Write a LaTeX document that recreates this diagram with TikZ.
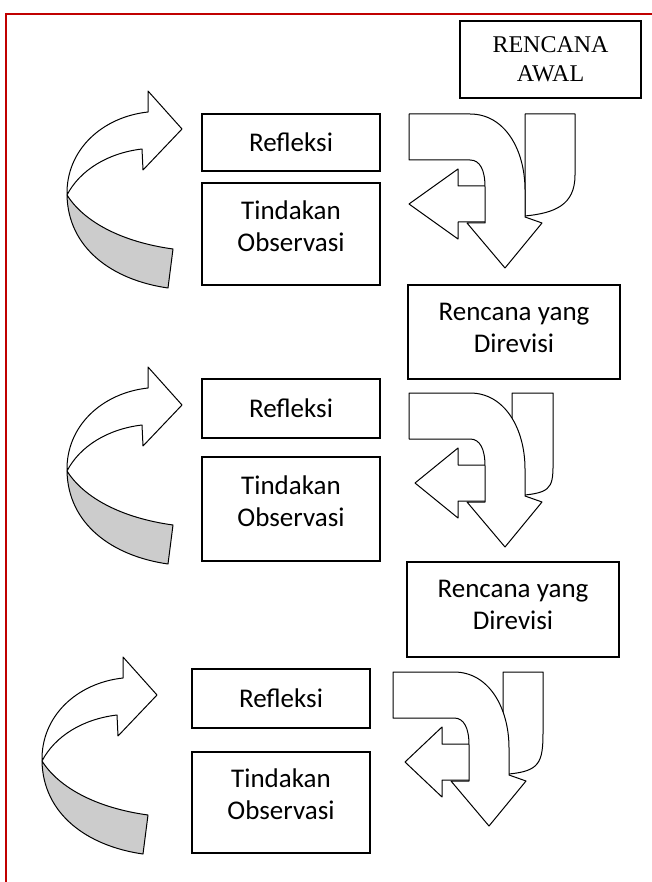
\documentclass[tikz,border=0pt]{standalone}
\usepackage{fontspec}
\setmainfont{Carlito}
\newfontfamily\awalfont{Liberation Serif}
\usetikzlibrary{positioning}
\definecolor{framered}{RGB}{192,0,0}

% curved arrow on the left of each cycle
\newcommand{\backarrow}{%
  \filldraw[shapeline, fill=gray!40] (67,195) .. controls (68,248) and (112,280) .. (168,288) -- (173,249) .. controls (122,242) and (84,222) .. (67,195) -- cycle;
  \filldraw[shapeline, fill=white] (67,195) .. controls (66,150) and (102,117) .. (148,112) -- (148,91) -- (182,129) -- (143,170) -- (142,149) .. controls (108,153) and (80,170) .. (67,195) -- cycle;
}
% bent arrows on the right of each cycle
\newcommand{\turnarrow}[3]{%
  \filldraw[shapeline, fill=white] (487,186) -- (458,186) -- (458,169) -- (#3,204) -- (458,239) -- (458,222) -- (487,222) -- cycle;
  \filldraw[shapeline, fill=white] (#1,114) -- (#2,114) -- (#2,175) .. controls (#2,205) and (555,213) .. (525,216) -- (#1,216) -- cycle;
  \filldraw[shapeline, fill=white] (409,114) -- (470,114) .. controls (505,114) and (525,150) .. (525,190) -- (525,217) -- (542,223) -- (505,268) -- (467,223) -- (485,223) -- (485,187) .. controls (485,170) and (480,160) .. (470,160) -- (409,160) -- cycle;
}

\begin{document}
\begin{tikzpicture}[
    x=1pt, y=-1pt,
    box/.style={draw, line width=1.5pt, align=center, inner sep=0pt, font=\fontsize{27}{32}\selectfont},
    tall/.style={box, text depth=16pt},
    shapeline/.style={line width=1pt, line join=round}
]
\useasboundingbox (0,0) rectangle (652,882);
\draw[framered, line width=2pt] (652,14) -- (6,14) -- (6,882);

\node[box, minimum width=181pt, minimum height=77pt, font=\awalfont\fontsize{24}{29}\selectfont] (awal) at (550.5,59.5) {RENCANA\\AWAL};
\node[box, minimum width=178pt, minimum height=57pt] (ref1) at (291,142.5) {Refleksi};
\node[tall, minimum width=178pt, minimum height=102pt, below=10.5pt of ref1] (tin1) {Tindakan\\Observasi};
\node[tall, text depth=9pt, minimum width=212pt, minimum height=94pt] (rev1) at (514,332) {Rencana yang\\Direvisi};
\node[box, minimum width=178pt, minimum height=59pt] (ref2) at (291,408.5) {Refleksi};
\node[tall, minimum width=178pt, minimum height=104pt, below=17.5pt of ref2] (tin2) {Tindakan\\Observasi};
\node[tall, text depth=9pt, minimum width=212pt, minimum height=95pt] (rev2) at (513,609.5) {Rencana yang\\Direvisi};
\node[box, minimum width=178pt, minimum height=59pt] (ref3) at (281,698.5) {Refleksi};
\node[tall, minimum width=178pt, minimum height=101pt, below=22.5pt of ref3] (tin3) {Tindakan\\Observasi};

\backarrow
\turnarrow{525}{575}{409}
\begin{scope}[shift={(0,276)}]
  \backarrow
\end{scope}
\begin{scope}[shift={(0,279)}]
  \turnarrow{512}{553}{415}
\end{scope}
\begin{scope}[shift={(-25,566)}]
  \backarrow
\end{scope}
\begin{scope}[shift={(-16,558)}]
  \turnarrow{519}{559}{421}
\end{scope}
\end{tikzpicture}
\end{document}
